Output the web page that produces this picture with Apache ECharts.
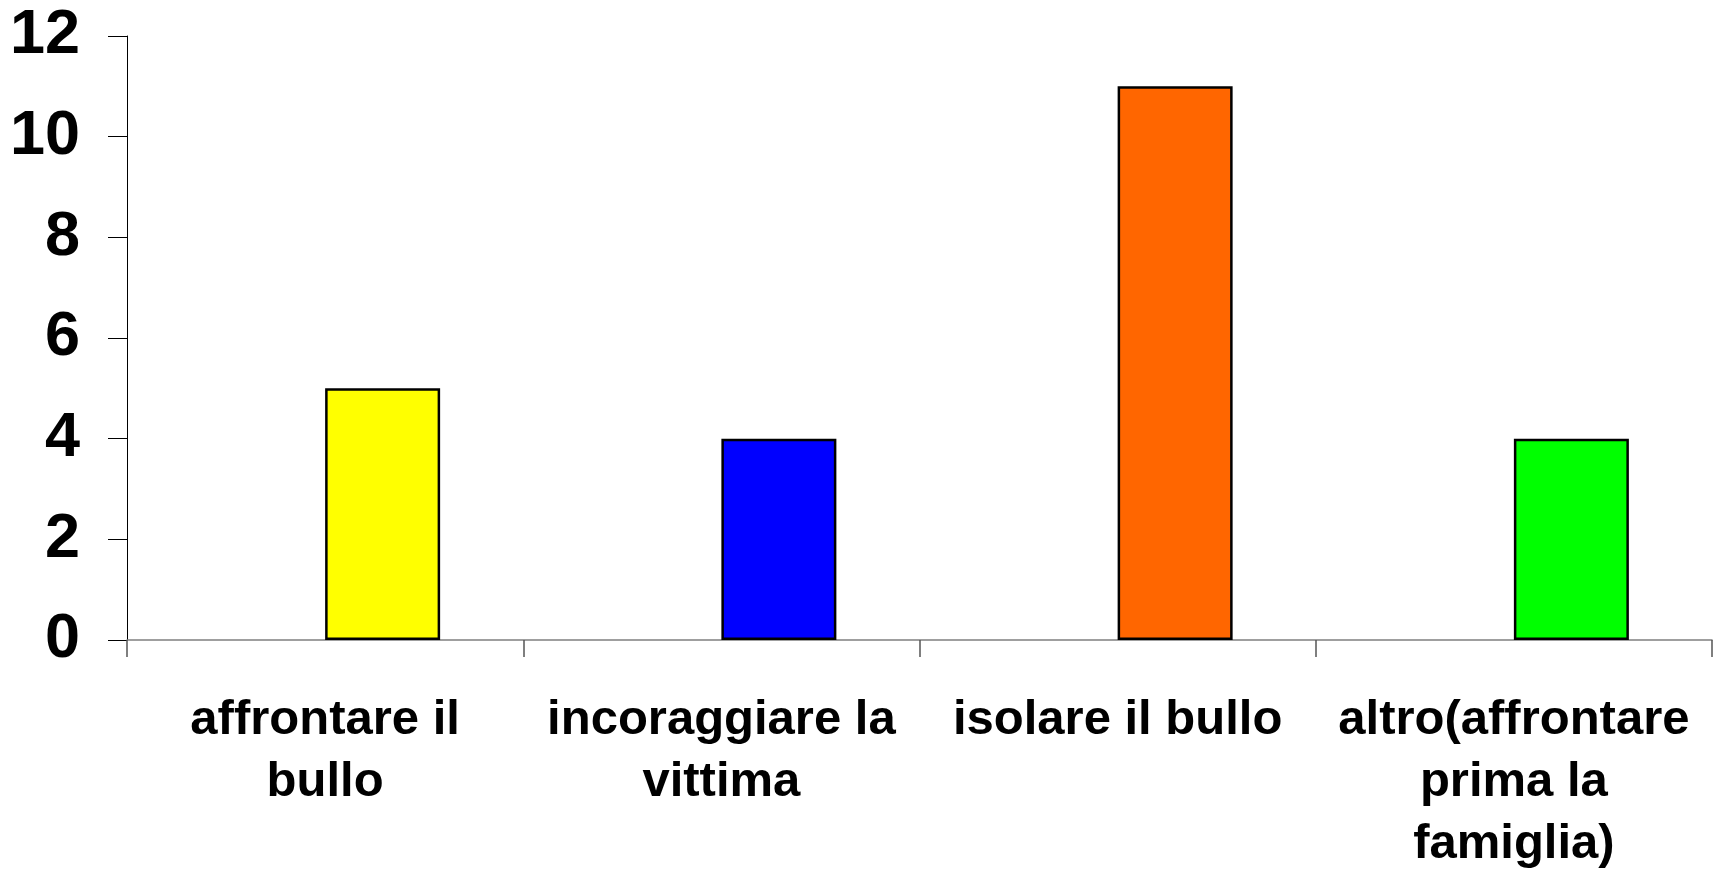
<!DOCTYPE html>
<html>
<head>
<meta charset="utf-8">
<script src="https://cdn.jsdelivr.net/npm/echarts@6/dist/echarts.min.js"></script>
<style>
  html, body { margin: 0; padding: 0; background: #ffffff; }
  #chart { width: 1719px; height: 875px; }
</style>
</head>
<body>
<div id="chart"></div>
<script>
// ---- data ----
var categories = [
  'affrontare il bullo',
  'incoraggiare la vittima',
  'isolare il bullo',
  'altro(affrontare prima la famiglia)'
];
var values = [5, 4, 11, 4];
var barColors = ['#FFFF00', '#0000FF', '#FF6600', '#00FF00'];
var yTicks = [0, 2, 4, 6, 8, 10, 12];
// empty first series slot (as in the original, bars sit in the second slot)
var emptySlot = [null, null, null, null];

var font = 'Liberation Sans, Arial, Helvetica, sans-serif';
var catFontSize = 49;
var wrapWidth = 390;

// word wrap without trailing spaces (so lines stay centred)
var measureCtx = document.createElement('canvas').getContext('2d');
measureCtx.font = 'bold ' + catFontSize + 'px ' + font;
function wrapLabel(text) {
  var words = text.split(' ');
  var lines = [];
  var cur = '';
  words.forEach(function (w) {
    var test = cur ? cur + ' ' + w : w;
    if (cur && measureCtx.measureText(test).width > wrapWidth) {
      lines.push(cur);
      cur = w;
    } else {
      cur = test;
    }
  });
  if (cur) lines.push(cur);
  return lines.join('\n');
}

var chart = echarts.init(document.getElementById('chart'), null, { renderer: 'canvas' });
chart.setOption({
  backgroundColor: '#ffffff',
  animation: false,
  grid: { left: 127, right: 7, top: 36, bottom: 235, containLabel: false },
  xAxis: {
    type: 'category',
    data: categories,
    boundaryGap: true,
    axisLine: { show: true, lineStyle: { color: '#808080', width: 1.5 } },
    axisTick: { show: true, length: 17, alignWithLabel: false, lineStyle: { color: '#555555', width: 1.5 } },
    axisLabel: {
      interval: 0,
      margin: 49,
      color: '#000000',
      fontFamily: font,
      fontWeight: 'bold',
      fontSize: catFontSize,
      lineHeight: 62,
      align: 'center',
      formatter: function (v) { return wrapLabel(v); }
    },
    splitLine: { show: false }
  },
  yAxis: {
    type: 'value',
    min: yTicks[0],
    max: yTicks[yTicks.length - 1],
    interval: 2,
    axisLine: { show: true, lineStyle: { color: '#000000', width: 1 } },
    axisTick: { show: true, length: 19, lineStyle: { color: '#000000', width: 1 } },
    axisLabel: {
      margin: 47,
      color: '#000000',
      fontFamily: font,
      fontWeight: 'bold',
      fontSize: 63,
      padding: [5, 0, 0, 0]
    },
    splitLine: { show: false }
  },
  series: [
    {
      type: 'bar',
      data: emptySlot,
      barWidth: 115,
      barGap: '0%',
      itemStyle: { color: 'transparent' }
    },
    {
      type: 'bar',
      data: values.map(function (v, i) {
        return { value: v, itemStyle: { color: barColors[i] } };
      }),
      barWidth: 115,
      barGap: '0%',
      itemStyle: { borderColor: '#000000', borderWidth: 2.5 }
    }
  ]
});
</script>
</body>
</html>
